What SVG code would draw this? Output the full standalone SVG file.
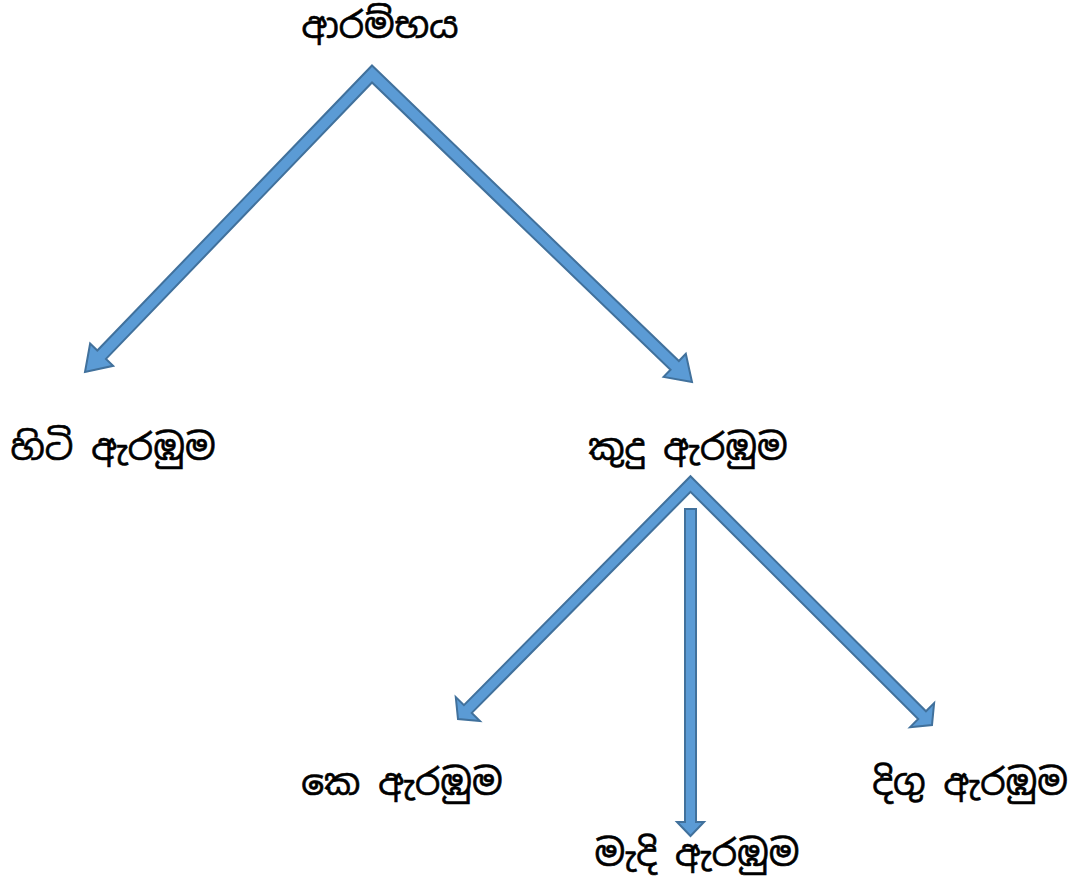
<svg xmlns="http://www.w3.org/2000/svg" width="1073" height="884" viewBox="0 0 1073 884">
<style>
.arrow{fill:#5B9BD5;stroke:#41719C;stroke-width:2;stroke-linejoin:miter}
.lbl{font-family:"Noto Sans Sinhala","Iskoola Pota","Noto Sans","DejaVu Sans",sans-serif;font-size:36px;fill:#000;stroke:#000;stroke-width:0.6;text-anchor:middle}
</style>
<rect width="1073" height="884" fill="#fff"/>
<g id="connectors">
<polygon class="arrow" points="372,65.5 678.87,361.04 685.81,353.83 692,382 663.61,376.89 670.55,369.68 372,82.5 105.97,358.87 113.17,365.81 85,372 90.13,343.61 97.33,350.55"/>
<polygon class="arrow" points="690.5,476.2 925.97,711.22 934.1,703.08 932,725 910.08,727.14 918.21,719 690.5,491.8 471.76,712.92 479.93,721.01 458,719 455.77,697.09 463.94,705.18"/>
<polygon class="arrow" points="685,509 696,509 696,822 704,822 690.5,836 677,822 685,822"/>
</g>
<g id="n-start"><text class="lbl" x="380" y="38">ආරම්භය</text></g>
<g id="n-hiti"><text class="lbl" x="113" y="460">හිටි ඇරඹුම</text></g>
<g id="n-kudu"><text class="lbl" x="688" y="460">කුදු ඇරඹුම</text></g>
<g id="n-ke"><text class="lbl" x="402" y="795">කෙ ඇරඹුම</text></g>
<g id="n-madi"><text class="lbl" x="697" y="866">මැදි ඇරඹුම</text></g>
<g id="n-digu"><text class="lbl" x="970" y="795">දිගු ඇරඹුම</text></g>
</svg>
